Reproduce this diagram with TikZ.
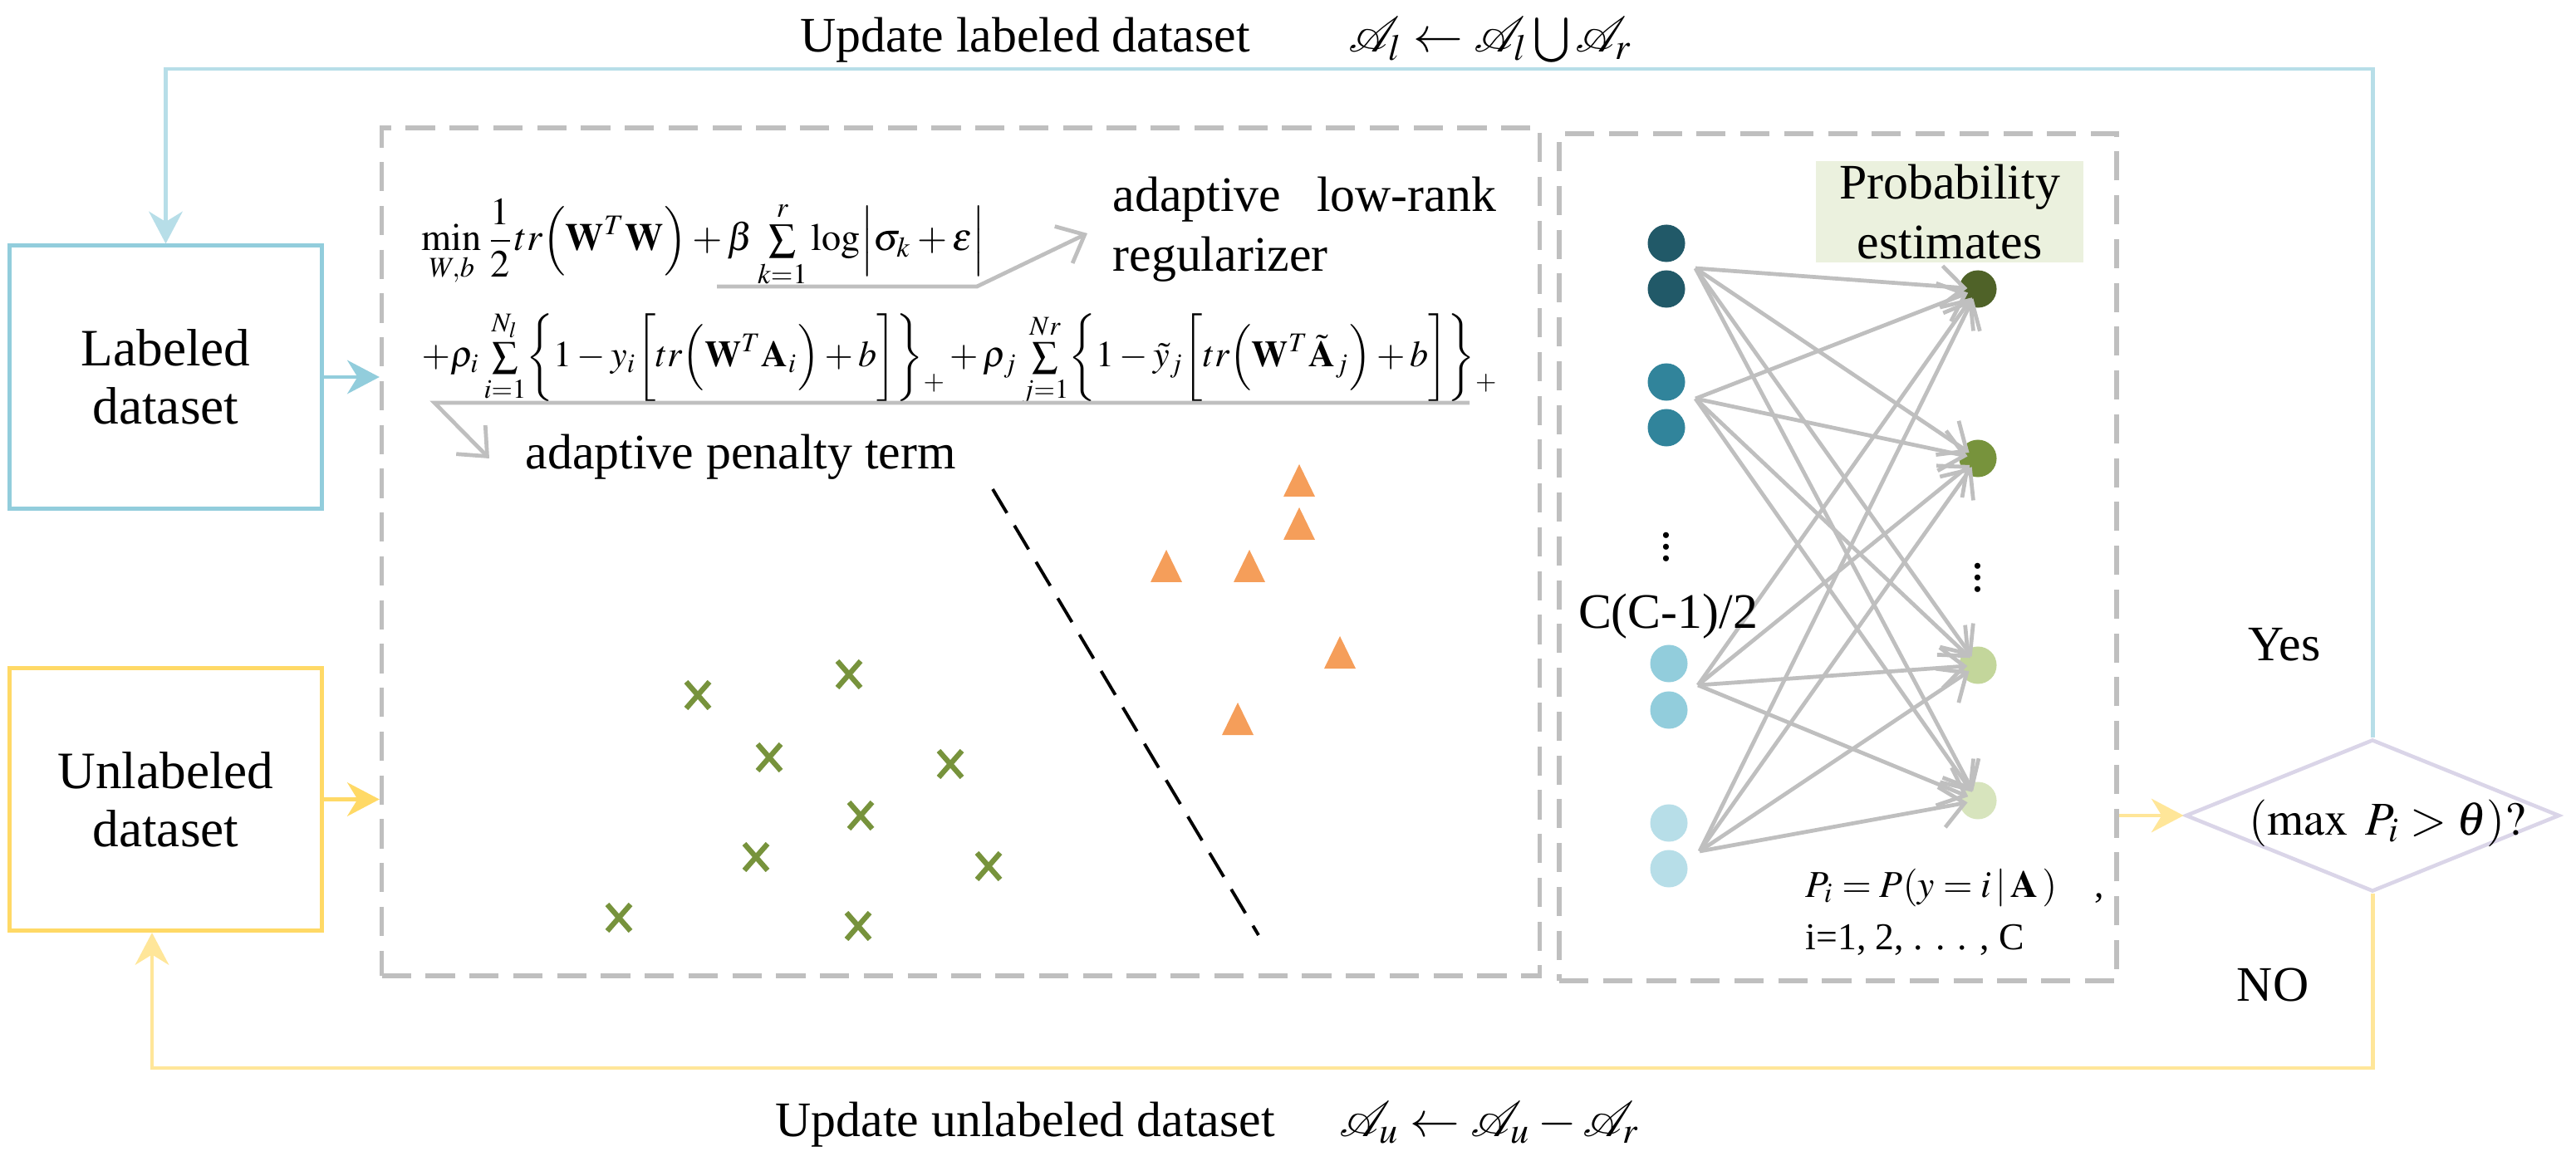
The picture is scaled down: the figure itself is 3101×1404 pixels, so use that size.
\documentclass[tikz,border=0pt]{standalone}
\usepackage{mathptmx}
\usepackage{fontspec}
\setmainfont{Liberation Serif}
\usepackage{graphicx}
\usetikzlibrary{arrows.meta,shapes.geometric}
\definecolor{labblue}{HTML}{92CDDC}
\definecolor{loopblue}{HTML}{B7DEE8}
\definecolor{unlyellow}{HTML}{FFD966}
\definecolor{loopyellow}{HTML}{FFE699}
\definecolor{dgray}{HTML}{BFBFBF}
\definecolor{dlav}{RGB}{218,213,232}
\definecolor{xgreen}{HTML}{77933C}
\definecolor{torange}{RGB}{245,158,90}
\definecolor{Lone}{HTML}{215968}
\definecolor{Ltwo}{HTML}{31849B}
\definecolor{Lthree}{HTML}{92CDDC}
\definecolor{Lfour}{HTML}{B7DEE8}
\definecolor{Rone}{HTML}{4F6228}
\definecolor{Rtwo}{HTML}{77933C}
\definecolor{Rthree}{HTML}{C3D69B}
\definecolor{Rfour}{HTML}{D7E4BD}
\definecolor{pgreen}{HTML}{EBF1DE}
\newcommand\fsA{\rmfamily\fontsize{17}{20.5}\selectfont}
\newcommand\fsB{\rmfamily\fontsize{18}{19.9}\selectfont}
\newcommand\fsC{\rmfamily\fontsize{13}{15}\selectfont}
\newcommand\plsub{\raisebox{-0.62em}{$\scriptstyle+$}}
\begin{document}
\begin{tikzpicture}[x=0.01cm,y=-0.01cm,
  txt/.style={inner sep=0pt,font=\fsA},
  dbox/.style={draw=dgray,line width=1.6pt,dash pattern=on 10pt off 5pt,inner sep=0pt},
  dsbox/.style={line width=1.4pt,minimum width=3.75cm,minimum height=3.16cm,align=center,font=\fsB,inner sep=0pt},
  flowhead/.style={-{Stealth[length=11pt,width=11.5pt,inset=3.5pt]}},
  garrow/.style={draw=dgray,line width=1.35pt,-{Straight Barb[length=8pt,width=14pt]}},
  dot/.style={circle,minimum size=0.45cm,inner sep=0pt},
  xm/.style={draw=xgreen,line width=1.8pt}]
\useasboundingbox (0,0) rectangle (3101,1404);

% containers
\node[dbox,minimum width=13.93cm,minimum height=10.21cm] (box1) at (1156.5,664.5) {};
\node[dbox,minimum width=6.71cm,minimum height=10.20cm] (box2) at (2212.5,671) {};

% dataset boxes
\node[dsbox,draw=labblue] (lab) at (199.5,454) {Labeled\\dataset};
\node[dsbox,draw=unlyellow] (unl) at (199.5,962.5) {Unlabeled\\dataset};

% decision
\node[diamond,draw=dlav,line width=1.3pt,minimum width=4.5cm,minimum height=1.83cm,inner sep=0pt] (dia) at (2856,982) {};
\node[txt,anchor=base west] (dtext) at (2707,1005) {\resizebox{3.33cm}{!}{$(\max\ P_i>\theta)?$}};
\node[txt,anchor=base] (yes) at (2750,795) {Yes};
\node[txt,anchor=base] (no) at (2736,1205) {NO};

% inputs
\draw[labblue,line width=1.4pt,flowhead] (lab.east) -- (lab.east -| box1.west);
\draw[unlyellow,line width=1.4pt,flowhead] (unl.east) -- (unl.east -| box1.west);
\draw[loopyellow,line width=1.4pt,flowhead] (box2.east |- dia.west) -- (dia.west);

% loops
\coordinate (topY) at (0,83);
\coordinate (ybot) at (183,1286);
\draw[loopblue,line width=1.4pt,flowhead] (dia.north) -- (dia.north |- topY) -- (lab.north |- topY) -- (lab.north);
\draw[loopyellow,line width=1.4pt,flowhead] (dia.south) -- (dia.south |- ybot) -- (ybot) -- (ybot |- unl.south);

% top / bottom labels
\node[txt,anchor=base west] (updl) at (963,63) {Update labeled dataset};
\node[txt,anchor=base west] (fl) at (1623,63) {$\mathcal{A}_l\leftarrow\mathcal{A}_l\bigcup\mathcal{A}_r$};
\node[txt,anchor=base west] (updu) at (933,1368) {Update unlabeled dataset};
\node[txt,anchor=base west] (fu) at (1612,1368) {$\mathcal{A}_u\leftarrow\mathcal{A}_u-\mathcal{A}_r$};

% objective
\node[inner sep=0pt,anchor=base west] (f1) at (507,302) {\resizebox{6.78cm}{!}{$\displaystyle \min_{W,b}\frac{1}{2}tr\Bigl(\mathbf{W}^{T}\mathbf{W}\Bigr)+\beta\mathop{\textstyle\sum}\limits_{k=1}^{r}\log\Bigl|\sigma_k+\varepsilon\Bigr|$}};
\node[inner sep=0pt,anchor=base west] (f2) at (507,442) {\resizebox{12.93cm}{!}{$\displaystyle +\rho_i\mathop{\textstyle\sum}\limits_{i=1}^{N_l}\biggl\{1-y_i\biggl[tr\Bigl(\mathbf{W}^{T}\mathbf{A}_i\Bigr)+b\biggr]\biggr\}\plsub+\rho_j\mathop{\textstyle\sum}\limits_{j=1}^{Nr}\biggl\{1-\tilde{y}_j\biggl[tr\Bigl(\mathbf{W}^{T}\tilde{\mathbf{A}}_j\Bigr)+b\biggr]\biggr\}\plsub$}};
\node[txt,anchor=base west] (reg1) at (1339,255) {\makebox[4.61cm][s]{adaptive low-rank}};
\node[txt,anchor=base west] (reg2) at (1339,327) {regularizer};
\node[txt,anchor=base west] (pen) at (632,565) {adaptive penalty term};
\coordinate (a1) at (863,345);
\coordinate (a2) at (1176,345);
\coordinate (a3) at (1309,281);
\coordinate (b1) at (1769,485);
\coordinate (b2) at (523,485);
\coordinate (b3) at (589,552);
\draw[garrow] (a1) -- (a2) -- (a3);
\draw[garrow] (b1) -- (b2) -- (b3);

% scatter
\draw[black,line width=1.1pt,dash pattern=on 9.5pt off 5pt] (1195,589) -- (1515,1126);
\foreach \cx/\cy in {840/837,1022/812,926/912,1144/920,1036/982,910/1032,1190/1043,745/1105,1033/1115}
  \draw[xm] (\cx-14,\cy-16) -- (\cx+14,\cy+16) (\cx-14,\cy+16) -- (\cx+14,\cy-16);
\foreach \ax/\ay in {1564/559,1564/611,1404/662,1504/662,1613/766,1490/846}
  \fill[torange] (\ax,\ay) -- (\ax+19,\ay+39) -- (\ax-19,\ay+39) -- cycle;

% probability box
\node[fill=pgreen,minimum width=3.22cm,minimum height=1.22cm,align=center,font=\fsA,inner sep=0pt] (prob) at (2347,255) {Probability\\estimates};

% network
\foreach \n/\y/\c in {1/293/Lone,2/348/Lone,3/460/Ltwo,4/515/Ltwo}
  \node[dot,fill=\c] (l\n) at (2006,\y) {};
\foreach \n/\y/\c in {5/799/Lthree,6/855/Lthree,7/991/Lfour,8/1046/Lfour}
  \node[dot,fill=\c] (l\n) at (2009,\y) {};
\foreach \n/\y/\c in {1/348/Rone,2/552/Rtwo,3/801/Rthree,4/964/Rfour}
  \node[dot,fill=\c] (r\n) at (2381,\y) {};
\coordinate (s1) at (2041,323);
\coordinate (s2) at (2041,480);
\coordinate (s3) at (2044,825);
\coordinate (s4) at (2046,1025);
\foreach \s in {1,...,4}
  \foreach \t in {1,...,4}
    \draw[garrow,shorten >=-3pt] (s\s) -- (r\t);
\node[txt] (vl) at (2006,648) {$\vdots$};
\node[txt] (vr) at (2381,685) {$\vdots$};
\node[txt,anchor=base] (cc) at (2008,756) {C(C-1)/2};
\node[txt,anchor=base west,font=\fsC] (pi) at (2173,1080) {$P_i=P(y=i\,|\,\mathbf{A}\,)$\quad,};
\node[txt,anchor=base west,font=\fsC] (il) at (2173,1143) {i=1, 2, . . . , C};
\end{tikzpicture}
\end{document}
